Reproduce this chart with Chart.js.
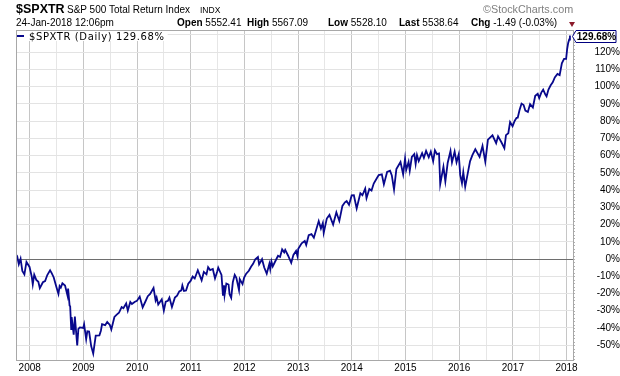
<!DOCTYPE html>
<html>
<head>
<meta charset="utf-8">
<script src="https://cdn.jsdelivr.net/npm/chart.js@4.4.1/dist/chart.umd.min.js"></script>
<style>
  body { margin: 0; background: #fff; }
  #wrap { position: relative; width: 620px; height: 376px; font-family: "Liberation Sans", Arial, sans-serif; color: #000; }
  #wrap canvas { position: absolute; left: 0; top: 0; }
  .t { position: absolute; white-space: nowrap; line-height: 1; }
  .tri { position: absolute; left: 569px; top: 22px; width: 0; height: 0;
         border-left: 3px solid transparent; border-right: 3px solid transparent; border-top: 5px solid #8b1a2b; }
</style>
</head>
<body>
<div id="wrap">
  <canvas id="chart-1" width="620" height="376"></canvas>
  <div class="t" style="left:16px; top:3px; font-size:12.5px; font-weight:bold;">$SPXTR</div>
  <div class="t" style="left:67px; top:5px; font-size:10px;">S&amp;P 500 Total Return Index</div>
  <div class="t" style="left:200px; top:6px; font-size:8.5px;">INDX</div>
  <div class="t" style="left:483px; top:4px; font-size:10.8px; color:#808080;">&copy;StockCharts.com</div>
  <div class="t" style="left:16px; top:18px; font-size:10px;">24-Jan-2018 12:06pm</div>
  <div class="t" style="left:177px; top:18px; font-size:10px;"><b>Open</b> 5552.41</div>
  <div class="t" style="left:247px; top:18px; font-size:10px;"><b>High</b> 5567.09</div>
  <div class="t" style="left:328px; top:18px; font-size:10px;"><b>Low</b> 5528.10</div>
  <div class="t" style="left:399px; top:18px; font-size:10px;"><b>Last</b> 5538.64</div>
  <div class="t" style="left:471px; top:18px; font-size:10px;"><b>Chg</b> -1.49 (-0.03%)</div>
  <div class="tri"></div>
</div>
<script>
// trading dates and % change since the first bar
const dates = [
  "2007-10-01", "2007-10-09", "2007-10-19", "2007-10-31", "2007-11-12", "2007-11-26", "2007-12-10", "2007-12-31",
  "2008-01-15", "2008-01-22", "2008-02-01", "2008-02-15", "2008-02-29", "2008-03-10", "2008-03-31", "2008-04-15",
  "2008-04-30", "2008-05-19", "2008-05-30", "2008-06-13", "2008-06-30", "2008-07-15", "2008-07-23", "2008-07-31",
  "2008-08-11", "2008-08-29", "2008-09-15", "2008-09-19", "2008-09-29", "2008-10-03", "2008-10-10", "2008-10-13",
  "2008-10-27", "2008-11-04", "2008-11-20", "2008-11-28", "2008-12-08", "2008-12-31",
  "2009-01-06", "2009-01-20", "2009-01-28", "2009-02-09", "2009-02-23", "2009-03-09", "2009-03-26", "2009-04-20",
  "2009-04-30", "2009-05-08", "2009-05-29", "2009-06-12", "2009-06-30", "2009-07-10", "2009-07-31", "2009-08-14",
  "2009-08-31", "2009-09-18", "2009-09-30", "2009-10-19", "2009-10-30", "2009-11-16", "2009-11-27", "2009-12-15",
  "2009-12-31",
  "2010-01-19", "2010-02-08", "2010-02-26", "2010-03-15", "2010-03-31", "2010-04-23", "2010-05-07", "2010-05-14",
  "2010-05-25", "2010-06-18", "2010-07-02", "2010-07-15", "2010-07-30", "2010-08-09", "2010-08-26", "2010-09-15",
  "2010-09-30", "2010-10-15", "2010-10-29", "2010-11-05", "2010-11-16", "2010-11-30", "2010-12-15", "2010-12-31",
  "2011-01-14", "2011-01-28", "2011-02-18", "2011-03-16", "2011-03-31", "2011-04-18", "2011-04-29", "2011-05-13",
  "2011-05-31", "2011-06-15", "2011-06-30", "2011-07-07", "2011-07-29", "2011-08-08", "2011-08-15", "2011-08-19",
  "2011-08-31", "2011-09-15", "2011-09-22", "2011-10-03", "2011-10-14", "2011-10-27", "2011-11-07", "2011-11-25",
  "2011-11-30", "2011-12-19", "2011-12-30",
  "2012-01-13", "2012-01-31", "2012-02-15", "2012-02-29", "2012-03-15", "2012-04-02", "2012-04-10", "2012-04-30",
  "2012-05-15", "2012-06-01", "2012-06-19", "2012-06-25", "2012-07-03", "2012-07-12", "2012-07-31", "2012-08-17",
  "2012-08-31", "2012-09-14", "2012-09-28", "2012-10-05", "2012-10-25", "2012-11-15", "2012-11-30", "2012-12-18",
  "2012-12-28",
  "2013-01-02", "2013-01-25", "2013-02-15", "2013-02-25", "2013-03-14", "2013-04-02", "2013-04-18", "2013-05-21",
  "2013-06-05", "2013-06-18", "2013-06-24", "2013-07-15", "2013-08-02", "2013-08-27", "2013-09-18", "2013-10-08",
  "2013-10-29", "2013-11-15", "2013-11-27", "2013-12-13", "2013-12-31",
  "2014-01-15", "2014-02-03", "2014-02-28", "2014-03-14", "2014-04-02", "2014-04-11", "2014-04-30", "2014-05-15",
  "2014-05-30", "2014-06-20", "2014-07-03", "2014-07-24", "2014-08-07", "2014-08-29", "2014-09-18", "2014-09-30",
  "2014-10-15", "2014-10-31", "2014-11-28", "2014-12-16", "2014-12-29",
  "2015-01-06", "2015-01-22", "2015-01-30", "2015-02-13", "2015-03-02", "2015-03-11", "2015-03-20", "2015-04-01",
  "2015-04-24", "2015-05-06", "2015-05-21", "2015-06-08", "2015-06-22", "2015-07-08", "2015-07-20", "2015-08-03",
  "2015-08-17", "2015-08-25", "2015-09-16", "2015-09-29", "2015-10-15", "2015-11-03", "2015-11-13", "2015-12-01",
  "2015-12-14", "2015-12-29",
  "2016-01-08", "2016-01-20", "2016-01-29", "2016-02-11", "2016-02-29", "2016-03-15", "2016-03-31", "2016-04-20",
  "2016-05-19", "2016-06-08", "2016-06-27", "2016-07-15", "2016-08-15", "2016-09-09", "2016-09-22", "2016-10-14",
  "2016-11-04", "2016-11-15", "2016-12-01", "2016-12-13", "2016-12-30",
  "2017-01-13", "2017-01-26", "2017-02-03", "2017-02-15", "2017-03-01", "2017-03-15", "2017-03-27", "2017-04-13",
  "2017-04-28", "2017-05-17", "2017-06-02", "2017-06-19", "2017-06-29", "2017-07-14", "2017-07-26", "2017-08-10",
  "2017-08-18", "2017-08-31", "2017-09-15", "2017-09-29", "2017-10-13", "2017-10-31", "2017-11-15", "2017-11-30",
  "2017-12-15", "2017-12-29",
  "2018-01-05", "2018-01-12", "2018-01-19", "2018-01-24",
];
const pctChange = [
  0.0, 1.2, -3.0, 0.2, -6.9, -8.9, -1.7, -4.6,
  -10.2, -14.7, -9.1, -12.1, -13.2, -16.9, -13.5, -12.8,
  -9.3, -6.5, -8.2, -10.7, -15.9, -20.2, -15.7, -16.6,
  -14.1, -15.4, -21.3, -17.2, -27.0, -27.4, -40.6, -33.7,
  -43.9, -33.4, -50.2, -40.6, -39.7, -40.0,
  -37.9, -46.5, -41.9, -42.1, -50.5, -54.9, -44.4, -44.3,
  -41.6, -37.8, -38.4, -36.5, -38.3, -40.9, -33.6, -32.4,
  -31.2, -27.9, -28.6, -25.8, -29.9, -24.9, -26.1, -24.9,
  -24.3,
  -21.8, -28.1, -24.8, -21.6, -20.2, -16.8, -24.0, -22.3,
  -26.4, -23.4, -29.9, -24.7, -24.2, -22.4, -27.9, -22.4,
  -21.3, -18.8, -18.2, -15.3, -18.5, -18.3, -14.3, -12.7,
  -10.2, -11.3, -6.5, -12.4, -7.5, -8.9, -4.7, -6.4,
  -5.8, -11.3, -7.3, -5.0, -9.2, -21.3, -15.3, -20.9,
  -14.2, -14.8, -20.4, -22.5, -13.5, -9.2, -10.9, -18.0,
  -11.7, -14.6, -10.8,
  -8.5, -6.8, -4.5, -2.8, -0.1, 1.2, -3.1, -0.1,
  -4.9, -8.5, -2.8, -5.9, -1.4, -4.3, -1.0, 1.9,
  1.2, 5.6, 3.9, 5.3, 1.9, -2.2, 2.4, 4.7,
  1.6,
  6.0, 9.1, 10.5, 8.2, 13.8, 14.4, 12.4, 22.0,
  17.7, 20.9, 15.2, 23.5, 25.6, 20.0, 27.1, 22.1,
  30.8, 32.9, 33.6, 31.4, 36.9,
  37.0, 29.3, 38.2, 37.0, 40.9, 35.3, 40.6, 39.7,
  43.8, 46.9, 48.7, 49.1, 43.3, 50.5, 51.3, 48.5,
  40.3, 52.2, 56.3, 49.2, 58.3,
  51.7, 56.4, 51.3, 59.2, 60.9, 55.1, 60.4, 56.8,
  61.4, 58.7, 62.7, 59.0, 62.3, 56.7, 63.1, 60.9,
  61.3, 43.4, 53.5, 45.0, 55.9, 62.7, 56.1, 62.4,
  56.2, 60.8,
  48.8, 44.0, 50.4, 41.9, 50.0, 56.7, 60.3, 63.7,
  59.3, 65.6, 56.5, 69.3, 71.8, 67.2, 71.2, 67.9,
  64.3, 71.9, 73.0, 79.5, 77.1,
  80.1, 81.9, 82.0, 86.3, 90.2, 89.4, 86.1, 85.3,
  89.9, 87.9, 94.7, 95.9, 93.4, 96.7, 98.3, 95.4,
  94.4, 98.3, 100.8, 102.5, 105.4, 107.4, 106.7, 113.6,
  116.1, 116.1,
  121.8, 125.4, 127.4, 129.68,
];
const yearLabels = [2008, 2009, 2010, 2011, 2012, 2013, 2014, 2015, 2016, 2017, 2018];
const pctLabels = [-50, -40, -30, -20, -10, 0, 10, 20, 30, 40, 50, 60, 70, 80, 90, 100, 110, 120];

const lineColor = "#08088c";

function toYear(s) {
  const p = s.split("-").map(Number);
  const start = Date.UTC(p[0], 0, 1);
  const end = Date.UTC(p[0] + 1, 0, 1);
  return p[0] + (Date.UTC(p[0], p[1] - 1, p[2]) - start) / (end - start);
}

const points = dates.map(function (d, i) {
  return { x: toYear(d), y: pctChange[i] };
});

const frame = {
  id: "frame",
  afterDatasetsDraw: function (chart) {
    const a = chart.chartArea;
    const c = chart.ctx;
    const y = chart.scales.y;
    c.save();
    // minor ticks along the right edge
    c.strokeStyle = "#b0b0b0";
    c.lineWidth = 1;
    c.beginPath();
    for (let v = -58; v <= 132; v += 2) {
      const py = Math.round(y.getPixelForValue(v)) + 0.5;
      c.moveTo(a.right, py);
      c.lineTo(a.right + 2, py);
    }
    c.stroke();
    c.strokeStyle = "#a8a8a8";
    c.strokeRect(Math.round(a.left) + 0.5, Math.round(a.top) + 0.5, Math.round(a.right - a.left), Math.round(a.bottom - a.top));
    // legend
    const txt = "$SPXTR (Daily) " + pctChange[pctChange.length - 1].toFixed(2) + "%";
    c.font = "10px 'DejaVu Sans'";
    c.letterSpacing = "0.6px";
    const w = c.measureText(txt).width;
    c.fillStyle = "#fff";
    c.fillRect(a.left + 1, a.top + 1, w + 15, 10);
    c.strokeStyle = lineColor;
    c.lineWidth = 2;
    c.beginPath();
    c.moveTo(a.left + 1, a.top + 6);
    c.lineTo(a.left + 8, a.top + 6);
    c.stroke();
    c.fillStyle = "#000";
    c.textBaseline = "alphabetic";
    c.fillText(txt, a.left + 13, a.top + 9.5);
    c.restore();
  },
  afterDraw: function (chart) {
    const a = chart.chartArea;
    const c = chart.ctx;
    const last = pctChange[pctChange.length - 1];
    const py = Math.round(chart.scales.y.getPixelForValue(last)) + 0.5;
    c.save();
    c.beginPath();
    c.moveTo(a.right - 0.5, py);
    c.lineTo(a.right + 3, py - 6);
    c.lineTo(a.right + 43, py - 6);
    c.lineTo(a.right + 43, py + 6);
    c.lineTo(a.right + 3, py + 6);
    c.closePath();
    c.fillStyle = "#fff";
    c.fill();
    c.strokeStyle = "#000080";
    c.lineWidth = 1;
    c.stroke();
    c.fillStyle = "#000";
    c.font = "bold 10px 'Liberation Sans'";
    c.textAlign = "center";
    c.textBaseline = "middle";
    c.fillText(last.toFixed(2) + "%", a.right + 23.5, py + 0.5);
    c.restore();
  },
};

const ctx_1 = document.getElementById("chart-1");
new Chart(ctx_1, {
  type: "line",
  data: {
    datasets: [
      {
        label: "$SPXTR (Daily)",
        data: points,
        borderColor: lineColor,
        borderWidth: 1.8,
        pointRadius: 0,
        tension: 0,
        fill: false,
      },
    ],
  },
  options: {
    responsive: false,
    animation: false,
    layout: { padding: { left: 16, top: 30, right: 0, bottom: 0 } },
    plugins: {
      legend: { display: false },
      tooltip: { enabled: false },
    },
    scales: {
      x: {
        type: "linear",
        min: 2007.745,
        max: 2018.12,
        afterFit: function (scale) {
          scale.height = 16;
        },
        border: { display: false },
        grid: {
          drawTicks: false,
          color: function (c) {
            return Number.isInteger(c.tick.value) ? "#c6c6c6" : "#e6e6e6";
          },
        },
        ticks: {
          stepSize: 0.5,
          includeBounds: false,
          autoSkip: false,
          maxRotation: 0,
          padding: 2,
          color: "#000",
          font: { family: "'Liberation Sans', Arial", size: 10 },
          callback: function (v) {
            return yearLabels.includes(v) ? String(v) : "";
          },
        },
      },
      y: {
        position: "right",
        min: -58.6,
        max: 132.9,
        afterFit: function (scale) {
          scale.width = 47;
        },
        border: { display: false },
        grid: {
          drawTicks: false,
          color: function (c) {
            return c.tick.value === 0 ? "#6e6e6e" : "#e3e3e3";
          },
        },
        ticks: {
          stepSize: 10,
          includeBounds: false,
          padding: 5,
          crossAlign: "far",
          color: "#000",
          font: { family: "'Liberation Sans', Arial", size: 10 },
          callback: function (v) {
            return pctLabels.includes(v) ? v + "%" : "";
          },
        },
      },
    },
  },
  plugins: [frame],
});
</script>
</body>
</html>
